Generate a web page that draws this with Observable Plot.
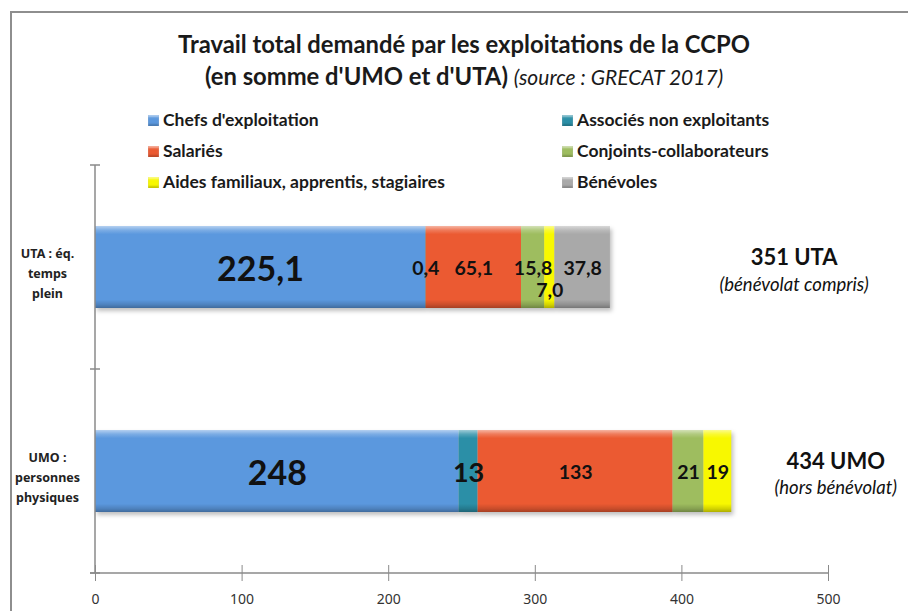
<!DOCTYPE html>
<html><head><meta charset="utf-8">
<script src="https://cdn.jsdelivr.net/npm/d3@7"></script>
<script src="https://cdn.jsdelivr.net/npm/@observablehq/plot@0.6"></script>
<style>
body{margin:0;background:#fff;}
#wrap{position:relative;width:908px;height:611px;overflow:hidden;font-family:Lato, "Open Sans", sans-serif;color:#1a1a1a;}
#border{position:absolute;left:10px;top:11px;width:920px;height:700px;border-left:2px solid #8e8e8e;border-top:2px solid #8e8e8e;}
#title{position:absolute;left:0;width:928px;top:28px;text-align:center;font-weight:bold;font-size:23.8px;line-height:32px;}
#title i{font-weight:normal;font-size:21px;}
.leg{position:absolute;font-size:17.5px;font-weight:bold;white-space:nowrap;line-height:20px;}
.sw{display:inline-block;width:11px;height:11px;margin-right:4px;vertical-align:0px;box-shadow:inset 0 2px 2px rgba(255,255,255,.5), inset 0 -2px 2px rgba(0,0,0,.2);}
#chart{position:absolute;left:0;top:0;}
</style></head>
<body>
<div id="wrap">
  <div id="border"></div>
  <div id="title">Travail total demandé par les exploitations de la CCPO<br>(en somme d'UMO et d'UTA) <i>(source : GRECAT 2017)</i></div>
  <div id="legend"></div>
  <div id="chart"></div>
</div>
<script>
const categories = ["UTA", "UMO"];
const categoryLabels = ["UTA : éq.\ntemps\nplein", "UMO :\npersonnes\nphysiques"];
const series = ["Chefs d'exploitation", "Associés non exploitants", "Salariés", "Conjoints-collaborateurs", "Aides familiaux, apprentis, stagiaires", "Bénévoles"];
const colors = ["#5b98de", "#2b8fa7", "#eb5a32", "#9ebd5f", "#f8f800", "#a9a9a9"];
const utaValues = [225.1, 0.4, 65.1, 15.8, 7.0, 37.8];
const umoValues = [248, 13, 133, 21, 19, 0];
const totals = [351, 434];
const totalLabels = ["351 UTA", "434 UMO"];
const totalNotes = ["(bénévolat compris)", "(hors bénévolat)"];
const xTicks = [0, 100, 200, 300, 400, 500];

// legend (left column / right column)
const legend = document.getElementById("legend");
series.forEach((s, k) => {
  const col = k % 2, row = Math.floor(k / 2);
  const d = document.createElement("div");
  d.className = "leg";
  d.style.left = (col ? 562 : 148) + "px";
  d.style.top = (110 + row * 31) + "px";
  d.innerHTML = `<span class="sw" style="background:${colors[k]}"></span>${s}`;
  legend.appendChild(d);
});

const valuesByCat = [utaValues, umoValues];
const fmt = (c, v) => c === "UTA" ? d3.format(".1f")(v).replace(".", ",") : d3.format("d")(v);
const rows = [];
categories.forEach((c, i) => series.forEach((s, j) => {
  const v = valuesByCat[i][j];
  if (v > 0) rows.push({cat: c, series: s, value: v, label: fmt(c, v)});
}));

// label styling (kept apart from data)
const isBig = d => d.series === "Chefs d'exploitation";
const isMid = d => d.cat === "UMO" && d.series === "Associés non exploitants";
const shifted = d => d.cat === "UTA" && d.series === "Aides familiaux, apprentis, stagiaires";
const isSmall = d => !isBig(d) && !isMid(d) && !shifted(d);

const totalRows = categories.map((c, i) => ({cat: c, total: totals[i], label: totalLabels[i], note: totalNotes[i]}));
const totalDx = {UTA: 184, UMO: 104};

const font = "Lato, 'Open Sans', sans-serif";
const seg = (textFn, opts) => Plot.text(rows, Plot.stackX({x: "value", y: "cat", text: textFn, fontWeight: "bold", fill: "#111", fontFamily: font, ...opts}));
const fig = Plot.plot({
  width: 908, height: 611,
  marginLeft: 95, marginRight: 80, marginTop: 165, marginBottom: 38,
  style: {background: "transparent", overflow: "visible", fontFamily: font},
  x: {domain: [0, 500]},
  y: {domain: categories, paddingInner: 0.598, paddingOuter: 0.299},
  color: {domain: series, range: colors},
  marks: [
    Plot.barX(rows, Plot.stackX({x: "value", y: "cat", fill: "series"})),
    Plot.barX(rows, Plot.stackX({x: "value", y: "cat", fill: "url(#bevV)"})),
    seg(d => isBig(d) ? d.label : "", {fontSize: 34, dy: 3}),
    seg(d => isMid(d) ? d.label : "", {fontSize: 27, dy: 2}),
    seg(d => isSmall(d) ? d.label : "", {fontSize: 19.5, dy: 1}),
    seg(d => shifted(d) ? d.label : "", {fontSize: 19.5, dy: 23}),
    Plot.text(totalRows.filter(d => d.cat === "UTA"), {x: "total", y: "cat", text: "label", dx: totalDx.UTA, dy: -10, fontSize: 22, fontWeight: "bold", fill: "#111"}),
    Plot.text(totalRows.filter(d => d.cat === "UTA"), {x: "total", y: "cat", text: "note", dx: totalDx.UTA, dy: 18, fontSize: 18.5, fontStyle: "italic", fill: "#111"}),
    Plot.text(totalRows.filter(d => d.cat === "UMO"), {x: "total", y: "cat", text: "label", dx: totalDx.UMO, dy: -10, fontSize: 22, fontWeight: "bold", fill: "#111"}),
    Plot.text(totalRows.filter(d => d.cat === "UMO"), {x: "total", y: "cat", text: "note", dx: totalDx.UMO, dy: 17, fontSize: 18.5, fontStyle: "italic", fill: "#111"}),
    Plot.gridX({ticks: xTicks, stroke: "#8a8a8a", strokeOpacity: 1, insetTop: 400}),
    Plot.axisX({ticks: xTicks, tickSize: 8, tickPadding: 13, stroke: "#8a8a8a", fill: "#333", fontSize: 14, fontFamily: "'Noto Sans', sans-serif", label: null}),
    Plot.axisY({tickSize: 0, tickPadding: 48, textAnchor: "middle", tickFormat: c => categoryLabels[categories.indexOf(c)], fontSize: 12.5, fontWeight: "bold", lineHeight: 1.6, dy: 4, fill: "#222", fontFamily: "'Noto Sans', sans-serif", label: null})
  ]
});

// axis lines & category boundary ticks, positioned with the plot's own scales
const sx = fig.scale("x"), sy = fig.scale("y");
const svg = d3.select(fig);
const defs = svg.insert("defs", ":first-child");
const g = defs.append("linearGradient").attr("id", "bevV").attr("x1", 0).attr("y1", 0).attr("x2", 0).attr("y2", 1);
[[0, "#fff", .55], [.05, "#fff", .2], [.1, "#fff", 0], [.9, "#000", 0], [.96, "#000", .15], [1, "#000", .3]].forEach(([o, c, a]) =>
  g.append("stop").attr("offset", o).attr("stop-color", c).attr("stop-opacity", a));
svg.select("g[aria-label=bar]").style("filter", "drop-shadow(2px 3px 2px rgba(0,0,0,0.25))");

const [yTop, yBot] = sy.range;
const x0 = sx.apply(0), x1 = sx.apply(500);
const axes = svg.append("g").attr("stroke", "#8a8a8a").attr("stroke-width", 1.5);
axes.append("line").attr("x1", x0).attr("x2", x0).attr("y1", yTop).attr("y2", yBot);
axes.append("line").attr("x1", x0 - 5).attr("x2", x1).attr("y1", yBot).attr("y2", yBot);
for (let k = 0; k <= categories.length; k++) {
  const yy = yTop + k * sy.step;
  axes.append("line").attr("x1", x0 - 5).attr("x2", x0 + 5).attr("y1", yy).attr("y2", yy);
}
document.getElementById("chart").appendChild(fig);
</script>
</body></html>
